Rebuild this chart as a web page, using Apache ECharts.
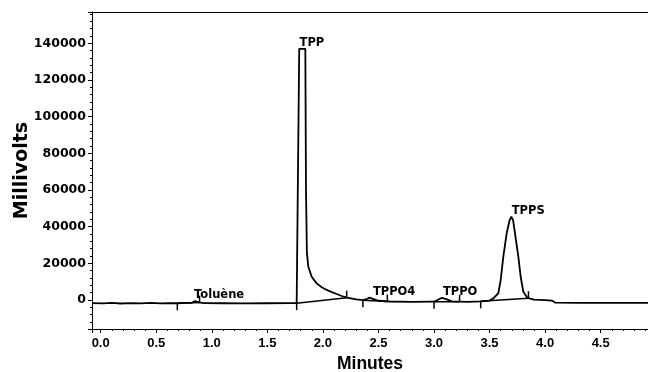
<!DOCTYPE html>
<html>
<head>
<meta charset="utf-8">
<script src="https://cdn.jsdelivr.net/npm/echarts@6/dist/echarts.min.js"></script>
<style>
  html, body { margin: 0; padding: 0; background: #fff; }
  #chart { width: 648px; height: 372px; }
</style>
</head>
<body>
<div id="chart"></div>
<script>
// detector trace: minutes / millivolts
const traceTime = [
  -0.078, 0.02, 0.10, 0.18, 0.27, 0.36, 0.45, 0.54, 0.62, 0.69,
  0.76, 0.82, 0.85, 0.88, 0.93, 1.10, 1.30, 1.50, 1.70, 1.764,
  1.787, 1.842, 1.848, 1.856, 1.869, 1.899, 1.944, 1.99, 2.034, 2.08,
  2.124, 2.17, 2.214, 2.30, 2.36, 2.40, 2.42, 2.45, 2.50, 2.60,
  2.80, 3.00, 3.04, 3.07, 3.11, 3.16, 3.30, 3.42, 3.50, 3.534,
  3.579, 3.60, 3.624, 3.654, 3.68, 3.696, 3.712, 3.729, 3.759, 3.78,
  3.804, 3.84, 3.90, 4.00, 4.06, 4.09, 4.30, 4.60, 4.926
];
const traceMv = [
  -1700, -1850, -1600, -1900, -1650, -1850, -1600, -1800, -1650, -1750,
  -1600, -1500, -600, -1300, -1700, -1750, -1800, -1750, -1700, -1700,
  137000, 137000, 60000, 25700, 18200, 12700, 9100, 7000, 5500, 4300,
  3300, 2200, 1300, 400, -100, 700, 1300, 600, -400, -800,
  -1000, -900, 300, 1200, 500, -700, -1000, -700, -300, 900,
  3700, 10900, 23700, 36400, 43500, 45500, 43500, 36400, 23700, 12700,
  4500, 1200, 200, 0, -300, -1400, -1500, -1600, -1500
];

// integration baselines (start -> end of each peak)
const baseT0 = [0.69, 1.764, 2.36, 3.00, 3.42];
const baseV0 = [-1750, -1700, -100, -900, -700];
const baseT1 = [0.89, 2.214, 2.58, 3.23, 3.85];
const baseV1 = [-1400, 1300, -800, -1000, 1000];

// peak labels
const peakNames = ['Toluène', 'TPP', 'TPPO4', 'TPPO', 'TPPS'];
const peakTime = [0.84, 1.79, 2.45, 3.08, 3.70];
const peakMv = [-400, 137000, 1300, 1200, 45500];

const yMin = -15800, yMax = 157100;
const xMin = -0.078, xMax = 4.926;

const black = '#000';
const boldLabel = {color: black, fontWeight: 'bold'};

let myChart = echarts.init(document.getElementById('chart'));
myChart.setOption({
  animation: false,
  backgroundColor: '#fff',
  grid: {left: 92, right: 0, top: 12, bottom: 43, outerBoundsMode: 'none'},
  xAxis: [{
    type: 'value',
    min: xMin,
    max: xMax,
    splitNumber: 10,
    axisLine: {onZero: false, lineStyle: {color: black, width: 1}},
    axisTick: {length: 4, lineStyle: {color: black}},
    minorTick: {show: true, splitNumber: 5, length: 2, lineStyle: {color: black}},
    splitLine: {show: false},
    axisLabel: {
      ...boldLabel, fontSize: 13, fontFamily: 'Liberation Sans', margin: 8,
      showMinLabel: false, showMaxLabel: false,
      formatter: v => v.toFixed(1)
    },
    name: 'Minutes',
    nameLocation: 'middle',
    nameGap: 26,
    nameMoveOverlap: false,
    nameTextStyle: {...boldLabel, fontSize: 17.5, fontFamily: 'Liberation Sans'}
  }, {
    type: 'value',
    position: 'top',
    min: xMin,
    max: xMax,
    axisLine: {show: true, onZero: false, lineStyle: {color: black, width: 1}},
    axisTick: {show: false},
    axisLabel: {show: false},
    splitLine: {show: false}
  }],
  yAxis: {
    type: 'value',
    min: yMin,
    max: yMax,
    splitNumber: 8,
    axisLine: {show: true, onZero: false, lineStyle: {color: black, width: 1}},
    axisTick: {show: true, length: 4, lineStyle: {color: black}},
    minorTick: {show: true, splitNumber: 5, length: 2, lineStyle: {color: black}},
    splitLine: {show: false},
    axisLabel: {
      ...boldLabel, fontSize: 12.5, fontFamily: 'DejaVu Sans', margin: 6,
      showMinLabel: false, showMaxLabel: false,
      formatter: v => String(v)
    },
    name: 'Millivolts',
    nameLocation: 'middle',
    nameGap: 60,
    nameMoveOverlap: false,
    nameTextStyle: {...boldLabel, fontSize: 19, fontFamily: 'DejaVu Sans'}
  },
  series: [
    {
      type: 'line',
      data: traceTime.map((t, i) => [t, traceMv[i]]),
      symbol: 'none',
      lineStyle: {color: black, width: 1.8},
      z: 3
    },
    {
      type: 'lines',
      coordinateSystem: 'cartesian2d',
      data: baseT0.map((t, i) => ({coords: [[t, baseV0[i]], [baseT1[i], baseV1[i]]]})),
      lineStyle: {color: black, width: 1.5, opacity: 1},
      z: 2
    },
    {
      // peak start marks (down)
      type: 'scatter',
      data: baseT0.map((t, i) => [t, baseV0[i]]),
      symbol: 'rect',
      symbolSize: [1.5, 7],
      symbolOffset: [0, 3.5],
      itemStyle: {color: black, opacity: 1}
    },
    {
      // peak end marks (up)
      type: 'scatter',
      data: baseT1.map((t, i) => [t, baseV1[i]]),
      symbol: 'rect',
      symbolSize: [1.5, 7],
      symbolOffset: [0, -3.5],
      itemStyle: {color: black, opacity: 1}
    },
    {
      type: 'scatter',
      data: peakTime.map((t, i) => [t, peakMv[i], peakNames[i]]),
      symbolSize: 0,
      itemStyle: {color: black, opacity: 1},
      label: {
        show: true,
        position: [0, 0],
        align: 'left',
        verticalAlign: 'bottom',
        offset: [0, 0],
        formatter: p => p.data[2],
        ...boldLabel,
        opacity: 1,
        fontSize: 11.5,
        fontFamily: 'DejaVu Sans'
      },
      z: 5
    }
  ]
});
</script>
</body>
</html>
